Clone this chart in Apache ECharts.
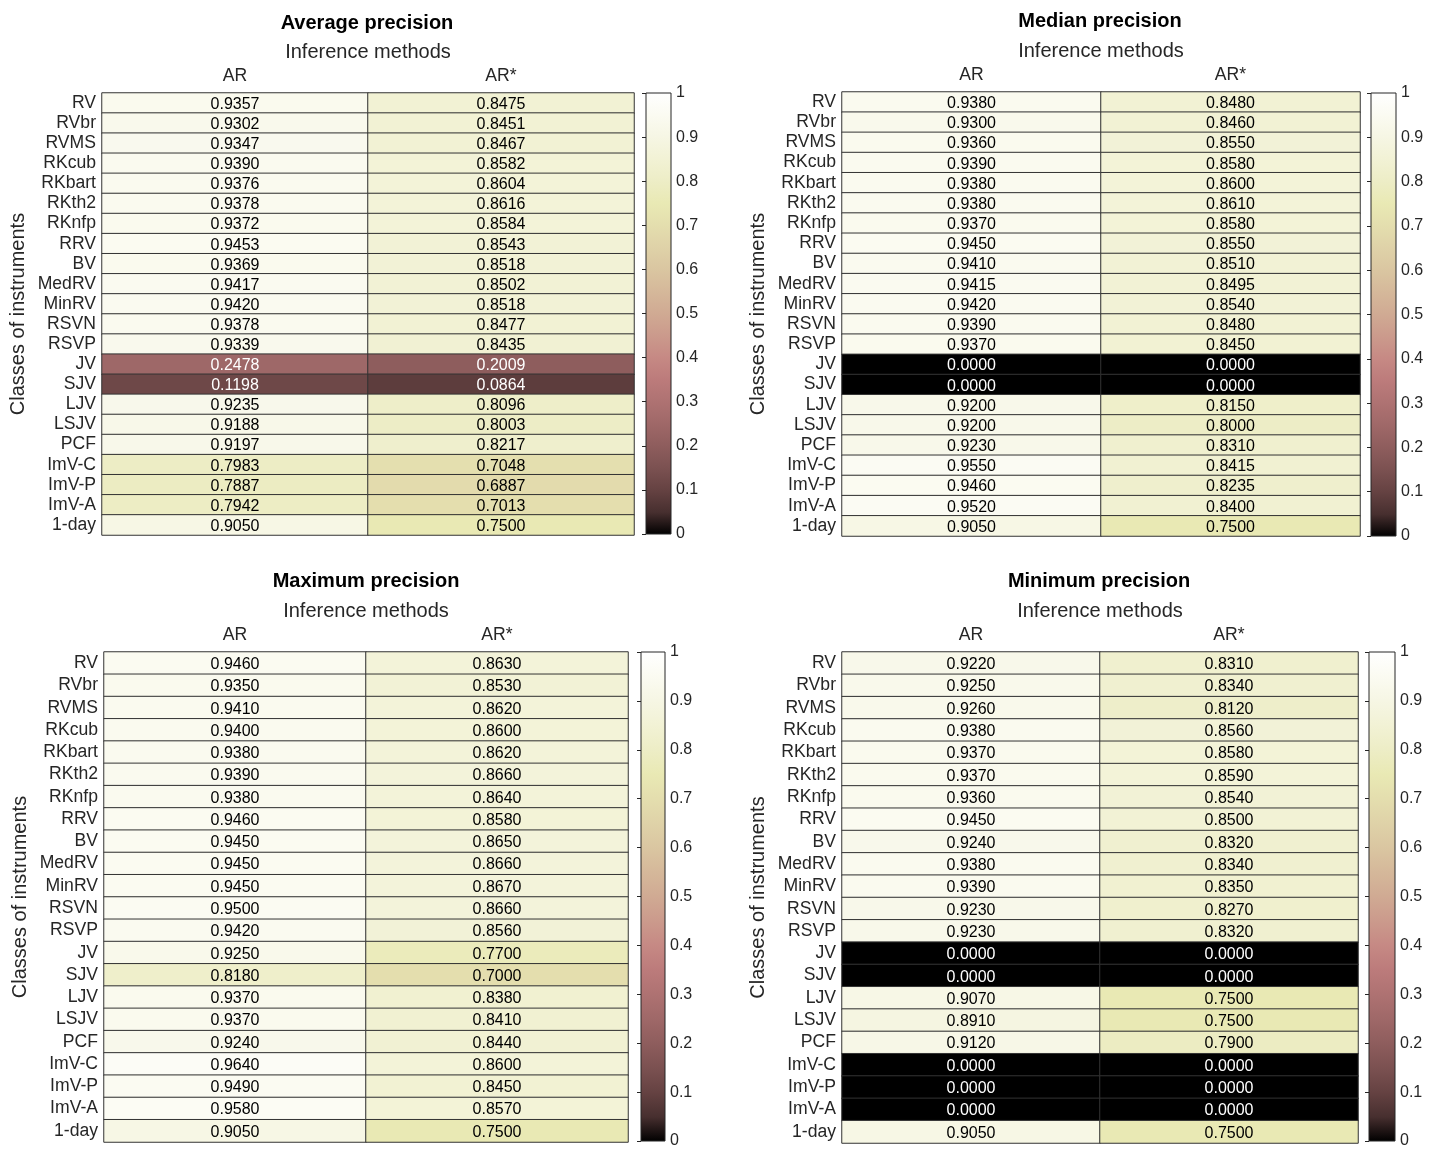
<!DOCTYPE html>
<html>
<head>
<meta charset="utf-8">
<script src="https://cdn.jsdelivr.net/npm/echarts@6/dist/echarts.min.js"></script>
<style>html,body{margin:0;padding:0;background:#fff;}#c{width:1430px;height:1149px;}</style>
</head>
<body>
<div id="c"></div>
<script>
// ---- data ----
const methods = ['AR', 'AR*'];
const instruments = ['RV','RVbr','RVMS','RKcub','RKbart','RKth2','RKnfp','RRV','BV','MedRV','MinRV','RSVN','RSVP','JV','SJV','LJV','LSJV','PCF','ImV-C','ImV-P','ImV-A','1-day'];
const panelTitles = ['Average precision', 'Median precision', 'Maximum precision', 'Minimum precision'];
const colorbarTicks = [0, 1, 0.1]; // min, max, interval

const avgAR  = [0.9357,0.9302,0.9347,0.9390,0.9376,0.9378,0.9372,0.9453,0.9369,0.9417,0.9420,0.9378,0.9339,0.2478,0.1198,0.9235,0.9188,0.9197,0.7983,0.7887,0.7942,0.9050];
const avgARs = [0.8475,0.8451,0.8467,0.8582,0.8604,0.8616,0.8584,0.8543,0.8518,0.8502,0.8518,0.8477,0.8435,0.2009,0.0864,0.8096,0.8003,0.8217,0.7048,0.6887,0.7013,0.7500];
const medAR  = [0.9380,0.9300,0.9360,0.9390,0.9380,0.9380,0.9370,0.9450,0.9410,0.9415,0.9420,0.9390,0.9370,0.0000,0.0000,0.9200,0.9200,0.9230,0.9550,0.9460,0.9520,0.9050];
const medARs = [0.8480,0.8460,0.8550,0.8580,0.8600,0.8610,0.8580,0.8550,0.8510,0.8495,0.8540,0.8480,0.8450,0.0000,0.0000,0.8150,0.8000,0.8310,0.8415,0.8235,0.8400,0.7500];
const maxAR  = [0.9460,0.9350,0.9410,0.9400,0.9380,0.9390,0.9380,0.9460,0.9450,0.9450,0.9450,0.9500,0.9420,0.9250,0.8180,0.9370,0.9370,0.9240,0.9640,0.9490,0.9580,0.9050];
const maxARs = [0.8630,0.8530,0.8620,0.8600,0.8620,0.8660,0.8640,0.8580,0.8650,0.8660,0.8670,0.8660,0.8560,0.7700,0.7000,0.8380,0.8410,0.8440,0.8600,0.8450,0.8570,0.7500];
const minAR  = [0.9220,0.9250,0.9260,0.9380,0.9370,0.9370,0.9360,0.9450,0.9240,0.9380,0.9390,0.9230,0.9230,0.0000,0.0000,0.9070,0.8910,0.9120,0.0000,0.0000,0.0000,0.9050];
const minARs = [0.8310,0.8340,0.8120,0.8560,0.8580,0.8590,0.8540,0.8500,0.8320,0.8340,0.8350,0.8270,0.8320,0.0000,0.0000,0.7500,0.7500,0.7900,0.0000,0.0000,0.0000,0.7500];

// ---- style constants ----
const pinkColors = ['#000000','#472f2f','#654242','#7b5151','#8e5d5d','#9f6868','#ae7272','#bc7b7b','#c68984','#cb9a8c','#d0aa93','#d5b89a','#dac6a1','#dfd2a8','#e4deae','#e9e9b4','#ededc6','#f2f2d5','#f6f6e4','#fbfbf2','#ffffff'];
const FONT = '"Liberation Sans", Arial, Helvetica, sans-serif';
const TXT = '#262626';

const panelValues = [[avgAR, avgARs], [medAR, medARs], [maxAR, maxARs], [minAR, minARs]];
const gridBoxes = [
  {left: 102, top: 93, width: 532, height: 442},
  {left: 842, top: 92, width: 518, height: 444},
  {left: 104, top: 652, width: 524, height: 490},
  {left: 842, top: 652, width: 516, height: 491}
];
const barBoxes = [
  {left: 646, top: 93, width: 25, height: 441},
  {left: 1371, top: 93, width: 25, height: 443},
  {left: 641, top: 652, width: 24, height: 489},
  {left: 1369, top: 652, width: 26, height: 491}
];
const titlePos = [[367, 23, 51], [1100, 21, 49], [366, 581, 609], [1099, 581, 609]];

const grids = [], xAxes = [], yAxes = [], series = [], graphics = [];

panelValues.forEach((vals, p) => {
  grids.push(Object.assign({containLabel: false}, gridBoxes[p]));
  xAxes.push({
    type: 'category', gridIndex: p, data: methods, position: 'top',
    name: 'Inference methods', nameLocation: 'middle', nameGap: 31,
    nameTextStyle: {fontFamily: FONT, fontSize: 20, color: TXT},
    axisLine: {show: false}, axisTick: {show: false}, splitLine: {show: false},
    axisLabel: {fontFamily: FONT, fontSize: 17.6, color: TXT, margin: 8, interval: 0}
  });
  yAxes.push({
    type: 'category', gridIndex: p, data: instruments, inverse: true,
    name: 'Classes of instruments', nameLocation: 'middle', nameGap: 74,
    nameTextStyle: {fontFamily: FONT, fontSize: 20, color: TXT},
    axisLine: {show: false}, axisTick: {show: false}, splitLine: {show: false},
    axisLabel: {fontFamily: FONT, fontSize: 17.6, color: TXT, margin: 6, interval: 0, hideOverlap: false, padding: [3, 0, 0, 0]}
  });
  const data = [];
  vals.forEach((col, xi) => {
    col.forEach((v, yi) => {
      data.push({value: [xi, yi, v], label: {color: v < 0.5 ? '#ffffff' : '#000000'}});
    });
  });
  series.push({
    type: 'heatmap', xAxisIndex: p, yAxisIndex: p, data: data,
    label: {show: true, fontFamily: FONT, fontSize: 16, offset: [0, 1.5], formatter: (d) => d.value[2].toFixed(4)},
    itemStyle: {borderColor: '#333333', borderWidth: 1},
    emphasis: {disabled: true}
  });
  graphics.push({type: 'text', x: titlePos[p][0], y: titlePos[p][1],
    style: {text: panelTitles[p], font: 'bold 20px ' + FONT, fill: '#000', align: 'center', verticalAlign: 'middle'}});
});

// colorbars
const gradStops = pinkColors.map((c, i) => ({offset: i / (pinkColors.length - 1), color: c}));
panelValues.forEach((vals, p) => {
  const gi = 4 + p;
  grids.push(Object.assign({containLabel: false}, barBoxes[p]));
  xAxes.push({type: 'value', gridIndex: gi, min: 0, max: 1, show: false});
  yAxes.push({
    type: 'value', gridIndex: gi, position: 'right', min: colorbarTicks[0], max: colorbarTicks[1], interval: colorbarTicks[2], z: 10,
    axisLine: {show: false}, splitLine: {show: false},
    axisTick: {show: true, inside: true, length: 4, lineStyle: {color: TXT, width: 1}},
    axisLabel: {fontFamily: FONT, fontSize: 16, color: TXT, margin: 5}
  });
  series.push({
    type: 'custom', xAxisIndex: gi, yAxisIndex: gi, z: 1, silent: true,
    data: [[0, colorbarTicks[0], colorbarTicks[1]]],
    encode: {x: 0, y: [1, 2]},
    renderItem: (params, api) => {
      const cs = params.coordSys;
      const yTop = api.coord([0, api.value(2)])[1];
      const yBot = api.coord([0, api.value(1)])[1];
      return {
        type: 'rect',
        shape: {x: cs.x, y: yTop, width: cs.width, height: yBot - yTop},
        style: {fill: new echarts.graphic.LinearGradient(0, 1, 0, 0, gradStops), stroke: '#262626', lineWidth: 1}
      };
    }
  });
});

const chart = echarts.init(document.getElementById('c'), null, {renderer: 'canvas'});
chart.setOption({
  backgroundColor: '#ffffff',
  animation: false,
  textStyle: {fontFamily: FONT},
  grid: grids, xAxis: xAxes, yAxis: yAxes,
  visualMap: [{type: 'continuous', show: false, min: 0, max: 1, seriesIndex: [0, 1, 2, 3], dimension: 2, inRange: {color: pinkColors}}],
  graphic: graphics,
  series: series
});
</script>
</body>
</html>
